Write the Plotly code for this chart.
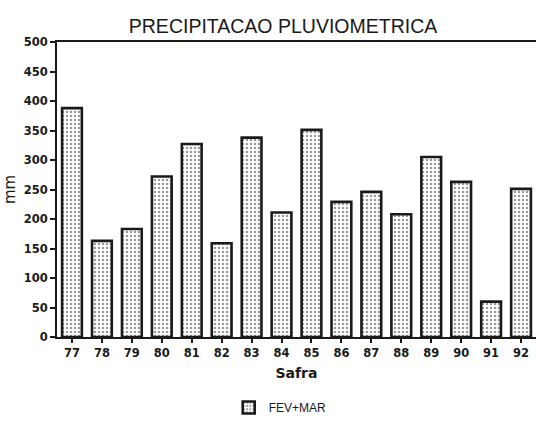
import plotly.graph_objects as go

# Harvest seasons (safra) and Feb+Mar rainfall (mm)
safras = ["77", "78", "79", "80", "81", "82", "83", "84",
          "85", "86", "87", "88", "89", "90", "91", "92"]
fev_mar = [388, 163, 183, 272, 327, 159, 338, 211,
           351, 229, 246, 208, 305, 263, 60, 251]

y_ticks = [0, 50, 100, 150, 200, 250, 300, 350, 400, 450, 500]

INK = "#1a1a1a"
TICK_FONT = dict(family="DejaVu Sans", size=11.5, color=INK, weight="bold")

fig = go.Figure()

fig.add_trace(
    go.Bar(
        x=safras,
        y=fev_mar,
        name="FEV+MAR",
        width=0.66,
        marker=dict(
            color="white",
            line=dict(color=INK, width=2.6),
            pattern=dict(shape=".", fgcolor="#333333", bgcolor="white",
                         size=4, solidity=0.3),
        ),
    )
)

fig.update_layout(
    width=536,
    height=422,
    plot_bgcolor="white",
    paper_bgcolor="white",
    margin=dict(l=57, r=0, t=42, b=85),
    font=dict(family="Liberation Sans, sans-serif", color=INK),
    title=dict(
        text="PRECIPITACAO PLUVIOMETRICA",
        x=0.528,
        xref="container",
        xanchor="center",
        y=0.937,
        yref="container",
        yanchor="middle",
        font=dict(family="Liberation Sans Narrow, Liberation Sans, sans-serif",
                  size=19.5, color=INK),
    ),
    showlegend=True,
    legend=dict(
        orientation="h",
        x=0.466,
        xanchor="center",
        y=-0.24,
        yanchor="middle",
        font=dict(family="Liberation Sans Narrow, Liberation Sans", size=12, color=INK),
    ),
    bargap=0.34,
)

fig.update_xaxes(
    type="category",
    range=[-0.5, 15.5],
    showline=True,
    linecolor=INK,
    linewidth=2,
    mirror=True,  # top frame line
    ticks="outside",
    ticklen=4,
    tickwidth=1.5,
    tickcolor=INK,
    tickfont=TICK_FONT,
    showgrid=False,
    title=dict(text="Safra", standoff=9,
               font=dict(family="DejaVu Sans", size=14, color=INK, weight="bold")),
)

fig.update_yaxes(
    range=[0, 500],
    tickvals=y_ticks,
    showline=True,
    linecolor=INK,
    linewidth=2,
    ticks="outside",
    ticklen=5,
    tickwidth=1.5,
    tickcolor=INK,
    tickfont=TICK_FONT,
    showgrid=False,
    zeroline=False,
    title=dict(text="mm", standoff=4,
               font=dict(family="DejaVu Sans", size=15, color=INK)),
)

# page body has a default 8px margin; drop it so the figure sits at the window edge
fig.write_html("out.html", config={"displayModeBar": False},
               post_script="document.body.style.margin='0';")
